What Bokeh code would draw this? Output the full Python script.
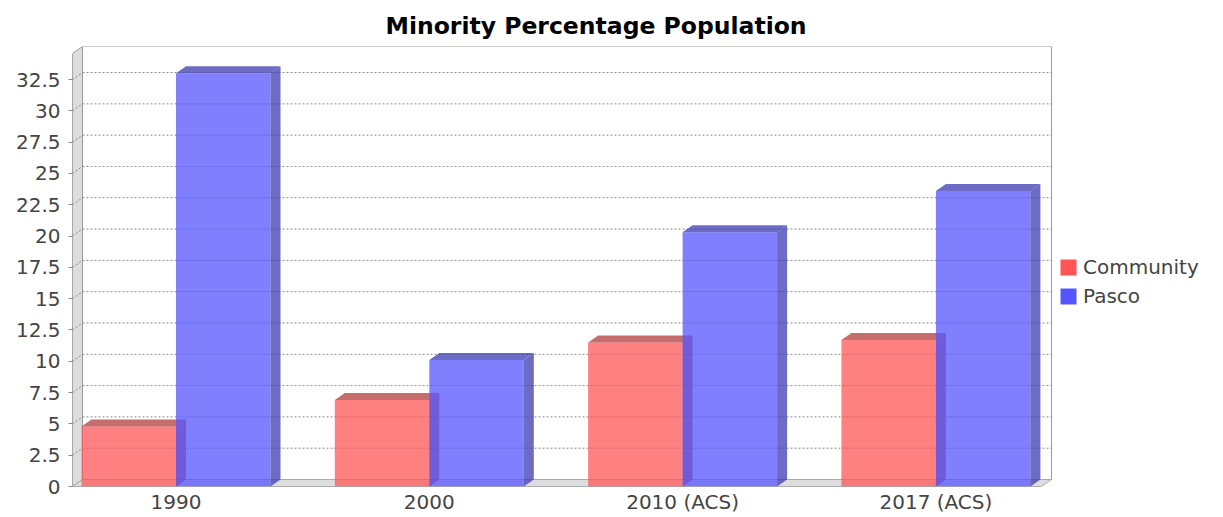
from bokeh.plotting import figure
from bokeh.models import (FixedTicker, CustomJSTickFormatter, Legend, LegendItem,
                          Range1d, ColumnDataSource)
from bokeh.embed import file_html
from bokeh.resources import INLINE

# ---------------- data ----------------
categories = ["1990", "2000", "2010 (ACS)", "2017 (ACS)"]
series_names = ["Community", "Pasco"]
community = [4.8, 6.9, 11.5, 11.7]
pasco = [33.0, 10.1, 20.3, 23.6]
y_ticks = [0, 2.5, 5, 7.5, 10, 12.5, 15, 17.5, 20, 22.5, 25, 27.5, 30, 32.5]
title_text = "Minority Percentage Population"

# ---------------- styling / layout ----------------
base_colors = ["#ff5555", "#5555ff"]
dark_colors = ["#b23b3b", "#3b3bb2"]
FONT = "DejaVu Sans"

W, H = 1223, 517
ML, MT, MB, MR = 72, 46, 31, 0
FW = W - ML - MR
FH = H - MT - MB
PX_PER_CAT = 253.3
x_start = -0.4086
x_end = x_start + FW / PX_PER_CAT
y_end = 35.14
sx = FW / (x_end - x_start)
sy = FH / y_end
DX = 10 / sx           # 3D depth offsets in data units
DY = 7 / sy
bar_w = 94.5 / sx
x_front_right = 3.417
x_back_right = x_front_right + DX

p = figure(width=W, height=H, x_range=Range1d(x_start, x_end), y_range=Range1d(0, y_end),
           output_backend="svg", toolbar_location=None,
           min_border_left=ML, min_border_top=MT, min_border_bottom=MB, min_border_right=MR)
p.outline_line_color = None
p.xgrid.visible = False
p.ygrid.visible = False
p.background_fill_color = "white"
p.border_fill_color = "white"

# title
p.title.text = title_text
p.title.align = "left"
p.title.offset = 313
p.title.text_font = FONT
p.title.text_font_size = "23.5px"
p.title.text_font_style = "bold"
p.title.text_color = "black"
p.title.standoff = 14

# left wall
p.patch([x_start, x_start, x_start + DX, x_start + DX],
        [0, y_end - DY, y_end, DY],
        fill_color="#dddddd", line_color="#999999", line_width=1)
# floor
p.patch([x_start, x_front_right, x_back_right, x_start + DX],
        [0, 0, DY, DY],
        fill_color="#dddddd", line_color="#aaaaaa", line_width=1)
# back wall outline
p.line([x_start + DX, x_back_right, x_back_right], [y_end, y_end, DY],
       line_color="#999999", line_width=1)

# gridlines on back wall + diagonals on left wall
grid_vals = [v for v in y_ticks if v > 0]
p.multi_line([[x_start + DX, x_back_right] for v in grid_vals],
             [[v + DY, v + DY] for v in grid_vals],
             line_color="#8a8a8a", line_width=1, line_dash="2 2")
p.multi_line([[x_start, x_start + DX] for v in grid_vals],
             [[v, v + DY] for v in grid_vals],
             line_color="#8a8a8a", line_width=1, line_dash="2 2")

# front axis lines
p.line([x_start, x_front_right], [0, 0], line_color="#888888", line_width=1)
p.line([x_start, x_start], [0, y_end - DY], line_color="#888888", line_width=1)

# bars (3D look)
all_series = [community, pasco]
legend_items = []
for s, vals in enumerate(all_series):
    lefts = [i - bar_w + s * bar_w for i in range(len(categories))]
    rights = [l + bar_w for l in lefts]
    src = ColumnDataSource(dict(left=lefts, right=rights, bottom=[0] * len(vals), top=vals))
    p.quad(left="left", right="right", bottom="bottom", top="top", source=src,
           fill_color=base_colors[s], fill_alpha=0.75, line_color=None)
    # side faces
    p.patches([[r, r, r + DX, r + DX] for r in rights],
              [[0, v, v + DY, DY] for v in vals],
              fill_color=dark_colors[s], fill_alpha=0.75, line_color=None)
    # top faces
    p.patches([[l, r, r + DX, l + DX] for l, r in zip(lefts, rights)],
              [[v, v, v + DY, v + DY] for v in vals],
              fill_color=dark_colors[s], fill_alpha=0.75, line_color=None)
    # legend proxy: same data, hidden in the plot, solid swatch in legend
    lr = p.quad(left="left", right="right", bottom="bottom", top="top", source=src,
                fill_color=base_colors[s], fill_alpha=1.0, line_color=None, visible=False)
    legend_items.append(LegendItem(label=series_names[s], renderers=[lr]))

# axes
p.yaxis.ticker = FixedTicker(ticks=y_ticks)
p.yaxis.formatter = CustomJSTickFormatter(code="return tick.toString();")
p.yaxis.axis_line_color = None
p.yaxis.major_tick_out = 4
p.yaxis.major_tick_in = 0
p.yaxis.minor_tick_out = 0
p.yaxis.minor_tick_in = 0
p.yaxis.major_tick_line_color = "#888888"
p.yaxis.major_label_standoff = 8
p.yaxis.major_label_text_font = FONT
p.yaxis.major_label_text_font_size = "20px"
p.yaxis.major_label_text_color = "#444444"

p.xaxis.ticker = FixedTicker(ticks=list(range(len(categories))))
p.xaxis.major_label_overrides = {i: c for i, c in enumerate(categories)}
p.xaxis.axis_line_color = None
p.xaxis.major_tick_line_color = None
p.xaxis.minor_tick_line_color = None
p.xaxis.major_tick_out = 0
p.xaxis.major_label_standoff = 3
p.xaxis.major_label_text_font = FONT
p.xaxis.major_label_text_font_size = "20px"
p.xaxis.major_label_text_color = "#444444"

# legend
legend = Legend(items=legend_items, location=(986, 178), padding=0, margin=0,
                glyph_width=20, glyph_height=20, label_height=20, spacing=5,
                label_standoff=5, label_text_font=FONT, label_text_font_size="20px",
                label_text_color="#444444", background_fill_alpha=0,
                border_line_color=None, inactive_fill_alpha=0)
p.add_layout(legend)

open("out.html", "w").write(file_html(p, INLINE))
